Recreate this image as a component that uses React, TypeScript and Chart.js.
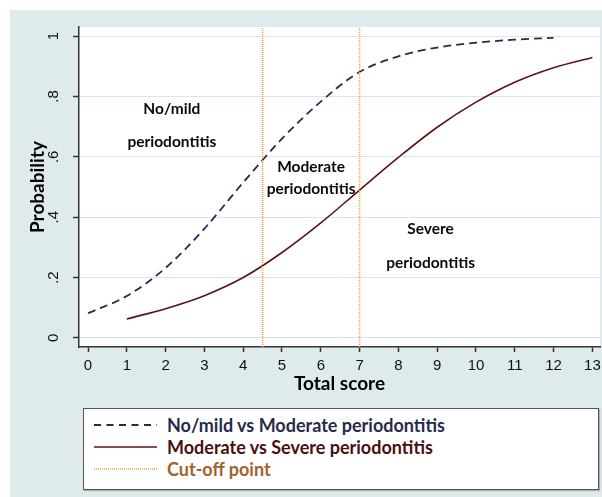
import React, { useEffect, useRef } from "react";
import { Chart, registerables } from "chart.js";

Chart.register(...registerables);

// ---- Data ----
const scoresNoMild = [0, 1, 2, 3, 4, 5, 6, 7, 8, 9, 10, 11, 12];
const probNoMildVsModerate = [0.082, 0.139, 0.232, 0.362, 0.515, 0.66, 0.783, 0.881, 0.933, 0.962, 0.978, 0.988, 0.994];
const scoresModerate = [1, 2, 3, 4, 5, 6, 7, 8, 9, 10, 11, 12, 13];
const probModerateVsSevere = [0.063, 0.097, 0.14, 0.2, 0.283, 0.381, 0.49, 0.598, 0.698, 0.781, 0.847, 0.895, 0.929];
const cutoffPoints = [4.5, 7];
const xTicks = [0, 1, 2, 3, 4, 5, 6, 7, 8, 9, 10, 11, 12, 13];
const yTicks = [0, 0.2, 0.4, 0.6, 0.8, 1];
const yTickLabels = ["0", ".2", ".4", ".6", ".8", "1"];
const regionLabels = ["No/mild", "periodontitis", "Moderate", "periodontitis", "Severe", "periodontitis"];
const regionLabelX = [2.16, 2.16, 5.75, 5.75, 8.83, 8.83];
const regionLabelY = [0.758, 0.649, 0.567, 0.493, 0.361, 0.248];
const legendLabels = ["No/mild vs Moderate periodontitis", "Moderate vs Severe periodontitis", "Cut-off point"];

const NAVY = "#272a4c";
const MAROON = "#5a1414";
const ORANGE = "#f2a033";

const plotBg = {
  id: "plotBg",
  beforeDraw(chart: any) {
    const { ctx, chartArea } = chart;
    ctx.save();
    ctx.fillStyle = "#ffffff";
    ctx.fillRect(chartArea.left, chartArea.top, chartArea.right - chartArea.left, chartArea.bottom - chartArea.top);
    ctx.restore();
  },
};

const regionText = {
  id: "regionText",
  afterDatasetsDraw(chart: any) {
    const { ctx } = chart;
    const xs = chart.scales.x;
    const ys = chart.scales.y;
    ctx.save();
    ctx.font = "bold 15.5px Lato";
    ctx.fillStyle = "#0a0a0a";
    ctx.textAlign = "center";
    ctx.textBaseline = "middle";
    regionLabels.forEach((t, i) => {
      ctx.fillText(t, xs.getPixelForValue(regionLabelX[i]), ys.getPixelForValue(regionLabelY[i]));
    });
    ctx.restore();
  },
};

export default function App() {
  const ref = useRef<HTMLCanvasElement>(null);

  useEffect(() => {
    if (!ref.current) return;
    const cutoffSets = cutoffPoints.map((c) => ({
      label: "Cut-off point",
      data: [
        { x: c, y: -0.03 },
        { x: c, y: 1.03 },
      ],
      borderColor: ORANGE,
      borderWidth: 1.5,
      borderDash: [1, 1],
      pointRadius: 0,
      showLine: true,
    }));
    const chart = new Chart(ref.current, {
      type: "scatter",
      data: {
        datasets: [
          ...cutoffSets,
          {
            label: legendLabels[0],
            data: scoresNoMild.map((x, i) => ({ x, y: probNoMildVsModerate[i] })),
            borderColor: NAVY,
            borderWidth: 1.8,
            borderDash: [8, 5],
            pointRadius: 0,
            showLine: true,
            cubicInterpolationMode: "monotone",
          },
          {
            label: legendLabels[1],
            data: scoresModerate.map((x, i) => ({ x, y: probModerateVsSevere[i] })),
            borderColor: MAROON,
            borderWidth: 1.6,
            pointRadius: 0,
            showLine: true,
            cubicInterpolationMode: "monotone",
          },
        ],
      },
      options: {
        animation: false,
        responsive: false,
        layout: { padding: { top: 17, right: 2, left: 0, bottom: 0 } },
        plugins: { legend: { display: false }, tooltip: { enabled: false } },
        scales: {
          x: {
            type: "linear",
            min: -0.232,
            max: 13.196,
            afterBuildTicks: (s: any) => {
              s.ticks = xTicks.map((v) => ({ value: v }));
            },
            afterFit: (s: any) => {
              s.height = 53;
              s.paddingLeft = 0;
              s.paddingRight = 0;
            },
            grid: { drawOnChartArea: false, tickLength: 5, tickColor: "#333333", tickWidth: 1.5 },
            border: { color: "#333333", width: 1.5 },
            ticks: {
              autoSkip: false,
              maxRotation: 0,
              padding: 5,
              color: "#111111",
              font: { family: "Liberation Sans", size: 15 },
            },
            title: {
              display: true,
              text: "Total score",
              color: "#000000",
              font: { family: "Lato", size: 19, weight: "bold" },
              padding: { top: 0, bottom: 5 },
            },
          },
          y: {
            type: "linear",
            min: -0.03,
            max: 1.03,
            afterBuildTicks: (s: any) => {
              s.ticks = yTicks.map((v) => ({ value: v }));
            },
            afterFit: (s: any) => {
              s.width = 69;
              s.paddingTop = 0;
              s.paddingBottom = 0;
            },
            grid: { color: "#d6e8ef", lineWidth: 1, tickLength: 6, tickColor: "#333333", tickWidth: 1.5 },
            border: { color: "#333333", width: 1.5 },
            ticks: {
              minRotation: 90,
              maxRotation: 90,
              crossAlign: "center",
              padding: 13,
              color: "#111111",
              font: { family: "Liberation Sans", size: 15 },
              callback: (v: any) => yTickLabels[yTicks.indexOf(Number(v))] ?? "",
            },
            title: {
              display: true,
              text: "Probability",
              color: "#000000",
              font: { family: "Lato", size: 19, weight: "bold" },
              padding: { top: 16, bottom: 0 },
            },
          },
        },
      } as any,
      plugins: [plotBg, regionText],
    });
    return () => chart.destroy();
  }, []);

  const legendColors = [NAVY, "#4a0f10", "#a2622c"];
  const sample = (i: number) => {
    if (i === 0)
      return <line x1="0" y1="11" x2="63" y2="11" stroke={NAVY} strokeWidth="1.8" strokeDasharray="7 5.5" />;
    if (i === 1) return <line x1="0" y1="11" x2="63" y2="11" stroke={MAROON} strokeWidth="1.6" />;
    return <line x1="0" y1="11" x2="63" y2="11" stroke={ORANGE} strokeWidth="1.5" strokeDasharray="1 1" />;
  };

  return (
    <div style={{ position: "fixed", left: 0, top: 0, width: 602, height: 497, background: "#ffffff", overflow: "hidden" }}>
      <div style={{ position: "absolute", left: 10, top: 10, right: 0, bottom: 0, background: "#dfeaed" }}>
        <canvas ref={ref} width={592} height={390} style={{ position: "absolute", left: 0, top: 0, width: 592, height: 390 }} />
        <div
          style={{
            position: "absolute",
            left: 73,
            top: 398,
            width: 514,
            height: 75,
            background: "#ffffff",
            border: "1px solid #555555",
            boxShadow: "1px 1px 1px rgba(0,0,0,0.25)",
            paddingTop: 5,
            boxSizing: "content-box",
          }}
        >
          {legendLabels.map((t, i) => (
            <div key={t} style={{ display: "flex", alignItems: "center", height: 22 }}>
              <svg width="63" height="22" style={{ marginLeft: 10, display: "block" }}>
                {sample(i)}
              </svg>
              <span
                style={{
                  marginLeft: 10,
                  fontFamily: "Lato",
                  fontWeight: "bold",
                  fontSize: 18,
                  lineHeight: "22px",
                  color: legendColors[i],
                  whiteSpace: "nowrap",
                }}
              >
                {t}
              </span>
            </div>
          ))}
        </div>
      </div>
    </div>
  );
}
